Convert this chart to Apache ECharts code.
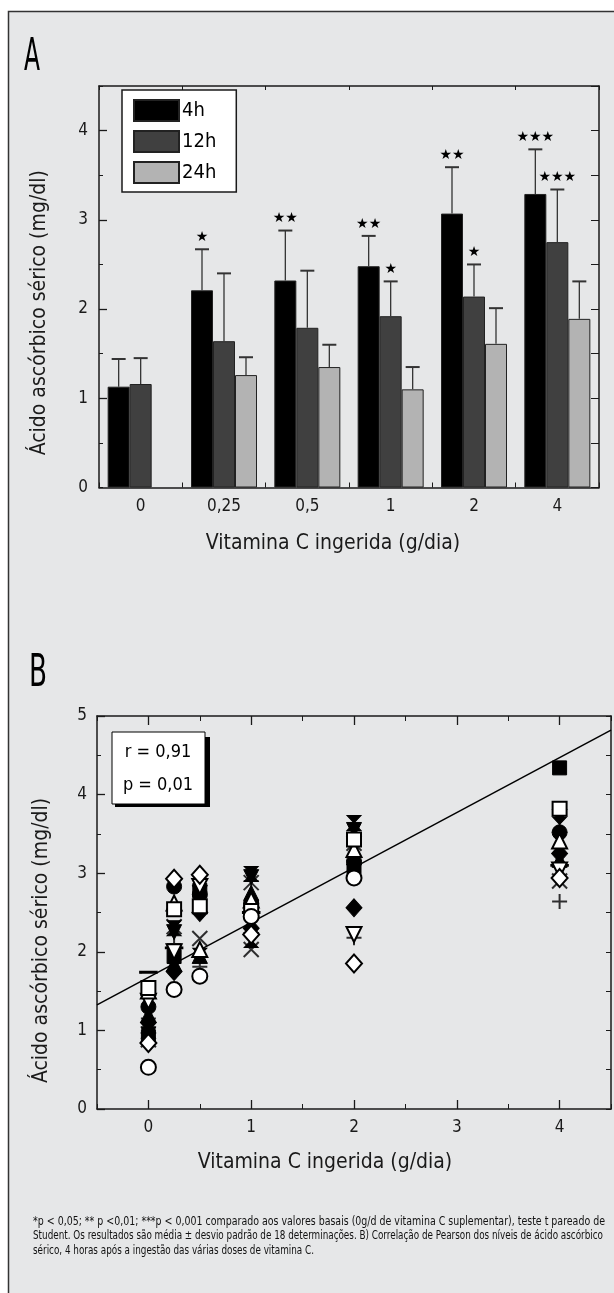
<!DOCTYPE html>
<html>
<head>
<meta charset="utf-8">
<script src="https://cdn.jsdelivr.net/npm/echarts@6.0.0/dist/echarts.min.js"></script>
<style>
  html, body { margin: 0; padding: 0; background: #fff; }
  #chart { width: 614px; height: 1293px; }
</style>
</head>
<body>
<div id="chart"></div>
<script>
// ---- panel A: mean serum ascorbic acid per dose ----
const doseLabels = ['0', '0,25', '0,5', '1', '2', '4']
const mean4h = [1.13, 2.21, 2.32, 2.48, 3.07, 3.29]
const mean12h = [1.16, 1.64, 1.79, 1.92, 2.14, 2.75]
const mean24h = [null, 1.26, 1.35, 1.10, 1.61, 1.89]
const sd4h = [0.31, 0.46, 0.56, 0.34, 0.52, 0.50]
const sd12h = [0.29, 0.76, 0.64, 0.39, 0.36, 0.59]
const sd24h = [null, 0.20, 0.25, 0.25, 0.40, 0.42]
const stars4h = ['', '*', '**', '**', '**', '***']
const stars12h = ['', '', '', '*', '*', '***']
const stars24h = ['', '', '', '', '', '']

// ---- panel B: individual values 4h after ingestion, by marker ----
const filledCircle = [[0, 1.30], [0.25, 2.83], [0.5, 2.73], [1, 2.62], [2, 3.15], [4, 3.52]]
const openCircle = [[0, 0.53], [0.25, 1.52], [0.5, 1.69], [1, 2.45], [2, 2.94]]
const filledSquare = [[0, 0.92], [0.25, 1.94], [0.5, 2.78], [1, 2.57], [2, 3.08], [4, 4.34]]
const openSquare = [[0, 1.54], [0.25, 2.54], [0.5, 2.58], [1, 2.52], [2, 3.43], [4, 3.82]]
const filledTriUp = [[0, 1.20], [0.25, 1.85], [0.5, 1.95], [1, 2.75], [2, 3.20], [4, 3.17]]
const openTriUp = [[0, 1.50], [0.25, 2.62], [0.5, 2.03], [1, 2.66], [2, 3.30], [4, 3.41]]
const filledTriDown = [[0, 0.95], [0.25, 2.25], [0.5, 2.75], [1, 2.95], [2, 3.55], [4, 3.72]]
const openTriDown = [[0, 1.37], [0.25, 2.00], [0.5, 2.83], [1, 2.40], [2, 2.22], [4, 3.04]]
const filledDiamond = [[0, 1.10], [0.25, 1.75], [0.5, 2.50], [1, 2.30], [2, 2.56], [4, 3.25]]
const openDiamond = [[0, 0.84], [0.25, 2.93], [0.5, 2.98], [1, 2.22], [2, 1.85], [4, 2.94]]
const crossMark = [[0, 0.88], [0.25, 2.32], [0.5, 2.17], [1, 2.03], [1, 2.88], [2, 3.38], [4, 2.90]]
const plusMark = [[0, 1.15], [0.25, 2.10], [0.5, 1.81], [1, 2.90], [2, 2.18], [4, 2.64]]
const bowtieMark = [[0, 1.00], [0.25, 2.30], [0.5, 1.95], [1, 2.99], [1, 2.15], [2, 3.64], [4, 3.62]]
const dashMark = [[0, 1.74], [0.25, 2.05], [1, 2.50], [4, 3.10]]

// regression line y = a + b*x, r and p
const regIntercept = 1.675
const regSlope = 0.699
const regText = ['r = 0,91', 'p = 0,01']

const captionLines = [
  '*p < 0,05; ** p <0,01; ***p < 0,001 comparado aos valores basais (0g/d de vitamina C suplementar), teste t pareado de',
  'Student. Os resultados são média ± desvio padrão de 18 determinações. B) Correlação de Pearson dos níveis de ácido ascórbico',
  'sérico, 4 horas após a ingestão das várias doses de vitamina C.',
]

const FAMILY = '"DejaVu Sans", sans-serif'
const STRETCH = 'condensed'
const INK = '#1a1a1a'
const BG = '#e6e7e8'
const BAR_GAP = 0.208

function font(size) {
  return STRETCH + ' ' + size + 'px ' + FAMILY
}

// squeeze a text so it spans the given width
function fitScale(text, size, target) {
  const ctx = document.createElement('canvas').getContext('2d')
  ctx.font = font(size)
  return target / ctx.measureText(text).width
}

function errorSeries(name, k, means, sds, stars) {
  const data = []
  means.forEach((m, i) => {
    if (m != null) data.push([i, m, sds[i]])
  })
  return {
    name: name + ' sd',
    type: 'custom',
    xAxisIndex: 0,
    yAxisIndex: 0,
    z: 5,
    data: data,
    renderItem(params, api) {
      const i = api.value(0)
      const m = api.value(1)
      const s = api.value(2)
      const band = api.size([1, 0])[0]
      const bw = band * (1 - BAR_GAP) / 3
      const base = api.coord([i, m])
      const x = base[0] + (k - 1) * bw
      const top = api.coord([i, m + s])[1]
      const children = [
        { type: 'line', shape: { x1: x, y1: base[1], x2: x, y2: top }, style: { stroke: '#333', lineWidth: 1.3 } },
        { type: 'line', shape: { x1: x - 7, y1: top, x2: x + 7, y2: top }, style: { stroke: '#333', lineWidth: 2 } },
      ]
      const st = stars[i]
      if (st) {
        children.push({
          type: 'text',
          style: {
            x: x, y: top - 5, text: st.replace(/\*/g, '★'),
            font: '14px "DejaVu Sans"', fill: '#000',
            align: 'center', verticalAlign: 'bottom',
          },
        })
      }
      return { type: 'group', children: children }
    },
  }
}

function markerSeries(name, data, symbol, filled, size, extra) {
  return Object.assign({
    name: name,
    type: 'scatter',
    xAxisIndex: 2,
    yAxisIndex: 3,
    data: data,
    symbol: symbol,
    symbolSize: size,
    z: 4,
    itemStyle: {
      color: filled ? '#000' : '#fff',
      borderColor: '#000',
      borderWidth: filled ? 1 : 2,
      opacity: 1,
    },
  }, extra || {})
}

const lineMark = (name, data, path, size) => ({
  name: name,
  type: 'scatter',
  xAxisIndex: 2,
  yAxisIndex: 3,
  data: data,
  symbol: path,
  symbolSize: size,
  z: 4,
  itemStyle: { color: 'none', borderColor: '#000', borderWidth: 2 },
})

const txt = { fontFamily: FAMILY, fontWeight: STRETCH }
const tickLabel = Object.assign({ color: INK, fontSize: 17 }, txt)
const axisLine = { show: true, onZero: false, lineStyle: { color: INK, width: 1.5 } }
const noLine = { show: false, onZero: false }
const nameStyle = Object.assign({ color: INK, fontSize: 21 }, txt)

const chart = echarts.init(document.getElementById('chart'), null, { renderer: 'canvas' })

const option = {
  backgroundColor: '#fff',
  animation: false,
  textStyle: txt,
  grid: [
    { left: 99, top: 86, width: 500, height: 401.5 },
    { left: 97, top: 716, width: 514, height: 393 },
  ],
  legend: {
    data: ['4h', '12h', '24h'],
    icon: 'rect',
    orient: 'vertical',
    left: 122,
    top: 90,
    padding: [9, 20, 8, 11],
    itemWidth: 45,
    itemHeight: 21,
    itemGap: 8,
    backgroundColor: '#fff',
    borderColor: INK,
    borderWidth: 1.5,
    borderRadius: 0,
    textStyle: Object.assign({ color: '#000', fontSize: 20, padding: [0, 0, 0, -2] }, txt),
  },
  xAxis: [
    {
      gridIndex: 0, type: 'category', data: doseLabels, position: 'bottom',
      axisLine: axisLine,
      axisTick: { show: true, inside: true, length: 5, lineStyle: { color: INK } },
      axisLabel: Object.assign({ margin: 11 }, tickLabel),
      name: 'Vitamina C ingerida (g/dia)', nameLocation: 'middle', nameGap: 46,
      nameTextStyle: Object.assign({ padding: [0, 32, 0, 0] }, nameStyle),
    },
    {
      gridIndex: 0, type: 'category', data: doseLabels, position: 'top',
      axisLine: axisLine,
      axisTick: { show: true, inside: true, length: 4, lineStyle: { color: INK } },
      axisLabel: { show: false },
    },
    {
      gridIndex: 1, type: 'value', min: -0.5, max: 4.5, interval: 0.5, position: 'bottom',
      axisLine: axisLine,
      splitLine: { show: false },
      axisTick: { show: true, inside: true, length: 5, lineStyle: { color: INK } },
      axisLabel: Object.assign({ margin: 10, formatter: (v) => (Number.isInteger(v) ? String(v) : '') }, tickLabel),
      name: 'Vitamina C ingerida (g/dia)', nameLocation: 'middle', nameGap: 43,
      nameTextStyle: Object.assign({ padding: [0, 58, 0, 0] }, nameStyle),
    },
    {
      gridIndex: 1, type: 'value', min: -0.5, max: 4.5, position: 'bottom',
      axisLine: noLine,
      splitLine: { show: false },
      axisTick: { show: true, inside: true, length: 9, customValues: [0, 1, 2, 3, 4], lineStyle: { color: INK, width: 1.3 } },
      axisLabel: { show: false },
    },
    {
      gridIndex: 1, type: 'value', min: -0.5, max: 4.5, interval: 0.5, position: 'top',
      axisLine: axisLine,
      splitLine: { show: false },
      axisTick: { show: true, inside: true, length: 5, lineStyle: { color: INK } },
      axisLabel: { show: false },
    },
    {
      gridIndex: 1, type: 'value', min: -0.5, max: 4.5, position: 'top',
      axisLine: noLine,
      splitLine: { show: false },
      axisTick: { show: true, inside: true, length: 9, customValues: [0, 1, 2, 3, 4], lineStyle: { color: INK, width: 1.3 } },
      axisLabel: { show: false },
    },
  ],
  yAxis: [
    {
      gridIndex: 0, type: 'value', min: 0, max: 4.5, interval: 0.5, position: 'left',
      axisLine: axisLine,
      splitLine: { show: false },
      axisTick: { show: true, inside: true, length: 4, lineStyle: { color: INK } },
      axisLabel: Object.assign({ margin: 11, formatter: (v) => (Number.isInteger(v) ? String(v) : '') }, tickLabel),
      name: 'Ácido ascórbico sérico (mg/dl)', nameLocation: 'middle', nameGap: 49,
      nameTextStyle: Object.assign({ padding: [0, 52, 0, 0] }, nameStyle),
    },
    {
      gridIndex: 0, type: 'value', min: 0, max: 4.5, position: 'left',
      axisLine: noLine,
      splitLine: { show: false },
      axisTick: { show: true, inside: true, length: 8, customValues: [1, 2, 3, 4], lineStyle: { color: INK, width: 1.3 } },
      axisLabel: { show: false },
    },
    {
      gridIndex: 0, type: 'value', min: 0, max: 4.5, interval: 0.5, position: 'right',
      axisLine: axisLine,
      splitLine: { show: false },
      axisTick: { show: true, inside: true, length: 8, lineStyle: { color: INK } },
      axisLabel: { show: false },
    },
    {
      gridIndex: 1, type: 'value', min: 0, max: 5, interval: 1, position: 'left',
      axisLine: axisLine,
      splitLine: { show: false },
      axisTick: { show: true, inside: true, length: 8, lineStyle: { color: INK, width: 1.3 } },
      minorTick: { show: true, splitNumber: 2, length: 4, lineStyle: { color: INK } },
      axisLabel: Object.assign({ margin: 10 }, tickLabel),
      name: 'Ácido ascórbico sérico (mg/dl)', nameLocation: 'middle', nameGap: 45,
      nameTextStyle: Object.assign({ padding: [0, 56, 0, 0] }, nameStyle),
    },
    {
      gridIndex: 1, type: 'value', min: 0, max: 5, interval: 0.5, position: 'right',
      axisLine: axisLine,
      splitLine: { show: false },
      axisTick: { show: true, inside: true, length: 5, lineStyle: { color: INK } },
      axisLabel: { show: false },
    },
  ],
  series: [
    {
      name: '4h', type: 'bar', xAxisIndex: 0, yAxisIndex: 0, data: mean4h,
      barGap: '0%', barCategoryGap: (BAR_GAP * 100) + '%',
      itemStyle: { color: '#000', borderColor: '#222', borderWidth: 1 },
    },
    {
      name: '12h', type: 'bar', xAxisIndex: 0, yAxisIndex: 0, data: mean12h,
      itemStyle: { color: '#404040', borderColor: '#222', borderWidth: 1 },
    },
    {
      name: '24h', type: 'bar', xAxisIndex: 0, yAxisIndex: 0, data: mean24h,
      itemStyle: { color: '#b3b3b3', borderColor: '#222', borderWidth: 1 },
    },
    errorSeries('4h', 0, mean4h, sd4h, stars4h),
    errorSeries('12h', 1, mean12h, sd12h, stars12h),
    errorSeries('24h', 2, mean24h, sd24h, stars24h),

    {
      name: 'regressao', type: 'line', xAxisIndex: 2, yAxisIndex: 3,
      data: [-0.5, 4.5].map((x) => [x, regIntercept + regSlope * x]),
      symbol: 'none', z: 3,
      lineStyle: { color: '#000', width: 1.5 },
    },
    markerSeries('dash', dashMark, 'rect', true, [16, 2.5]),
    lineMark('cross', crossMark, 'path://M0,0L10,10M10,0L0,10', 15),
    lineMark('plus', plusMark, 'path://M5,0L5,10M0,5L10,5', 15),
    markerSeries('bowtie', bowtieMark, 'path://M0,0L10,0L0,10L10,10Z', true, [14, 15]),
    markerSeries('filledTriDown', filledTriDown, 'triangle', true, 15, { symbolRotate: 180 }),
    markerSeries('filledTriUp', filledTriUp, 'triangle', true, 15),
    markerSeries('filledDiamond', filledDiamond, 'diamond', true, [16, 18]),
    markerSeries('filledSquare', filledSquare, 'rect', true, 14),
    markerSeries('filledCircle', filledCircle, 'circle', true, 15),
    markerSeries('openTriDown', openTriDown, 'triangle', false, 15, { symbolRotate: 180 }),
    markerSeries('openTriUp', openTriUp, 'triangle', false, 15),
    markerSeries('openSquare', openSquare, 'rect', false, 14),
    markerSeries('openDiamond', openDiamond, 'diamond', false, [16, 18]),
    markerSeries('openCircle', openCircle, 'circle', false, 15),
  ],
  graphic: [
    {
      type: 'rect', z: -100, silent: true,
      shape: { x: 8.5, y: 11.5, width: 640, height: 1320 },
      style: { fill: BG, stroke: '#333', lineWidth: 1.5 },
    },
    {
      type: 'text', x: 24, y: 37, scaleX: fitScale('A', 44, 16),
      style: { text: 'A', font: font(44), fill: '#000' },
    },
    {
      type: 'text', x: 29, y: 653, scaleX: fitScale('B', 44, 18),
      style: { text: 'B', font: font(44), fill: '#000' },
    },
    {
      type: 'rect', z: 50, shape: { x: 115, y: 737, width: 95, height: 70 }, style: { fill: '#000' },
    },
    {
      type: 'rect', z: 51, shape: { x: 112, y: 732, width: 93, height: 72 },
      style: { fill: '#fff', stroke: '#000', lineWidth: 1 },
    },
    {
      type: 'text', z: 52, x: 158, y: 752,
      style: { text: regText[0], font: font(18), fill: '#000', align: 'center', verticalAlign: 'middle' },
    },
    {
      type: 'text', z: 52, x: 158, y: 785,
      style: { text: regText[1], font: font(18), fill: '#000', align: 'center', verticalAlign: 'middle' },
    },
  ].concat(captionLines.map((line, i) => ({
    type: 'text', x: 33, y: 1222 + i * 14.3,
    scaleX: fitScale(captionLines[Math.min(i, 1)], 12, i === 0 ? 572 : 570),
    style: { text: line, font: font(12), fill: '#111', verticalAlign: 'middle' },
  }))),
}

chart.setOption(option)
</script>
</body>
</html>
